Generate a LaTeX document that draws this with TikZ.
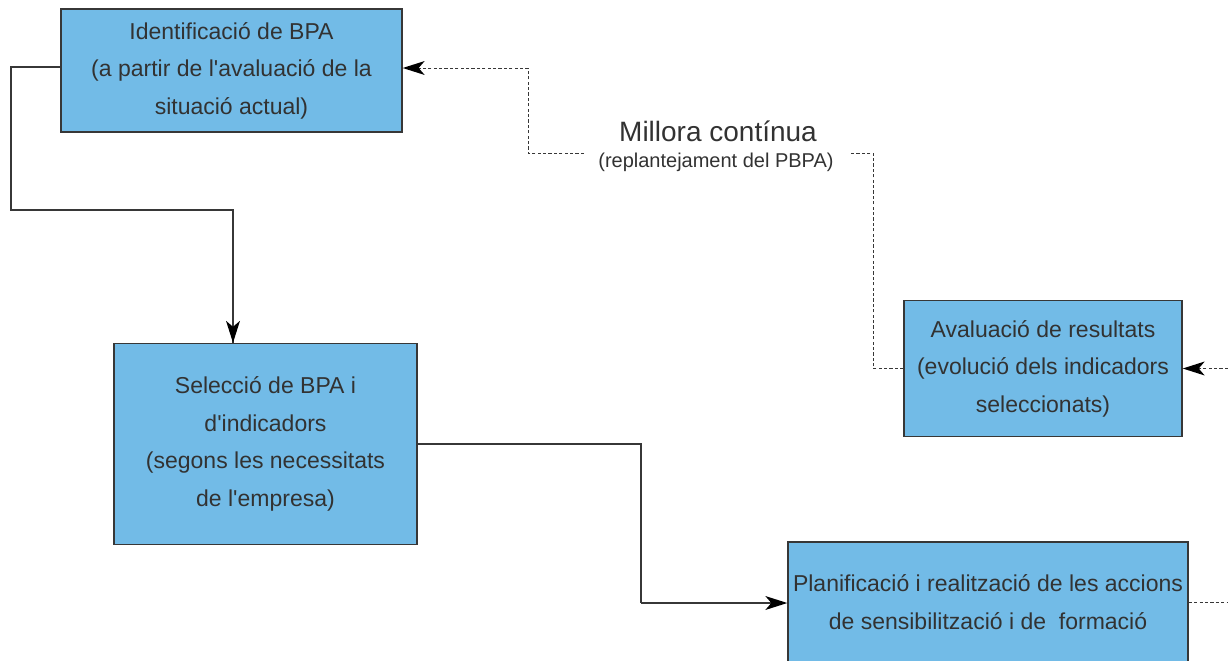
\documentclass[tikz,border=0pt]{standalone}
\usepackage{fontspec}
\setmainfont{Liberation Sans}
\usetikzlibrary{arrows.meta}
\definecolor{boxfill}{RGB}{114,187,231}
\definecolor{ink}{RGB}{50,50,50}
\definecolor{linec}{RGB}{55,55,55}
\tikzset{
  box/.style={draw=linec, line width=0.7pt, fill=boxfill, inner sep=0pt, align=center,
    text=ink, font=\fontsize{11.5pt}{18.75pt}\selectfont},
  conn/.style={draw=linec, line width=0.7pt},
  dconn/.style={draw=linec, line width=0.5pt, dash pattern=on 1.6pt off 1.1pt},
  tip/.style={-{Stealth[length=11pt,width=7pt,inset=3pt,color=black,line width=0pt]}},
}
\begin{document}
\begin{tikzpicture}[x=0.5pt,y=-0.5pt]
\useasboundingbox (0,0) rectangle (1228,660);
\clip (0,0) rectangle (1228,660);
\node[box, minimum width=170.5pt, minimum height=61.5pt] (b1) at (231.5,70.5)
  {Identificació de BPA\\(a partir de l\textquotesingle avaluació de la\\situació actual)};
\node[box, minimum width=151.5pt, minimum height=100.5pt] (b2) at (265.5,444)
  {Selecció de BPA i\\d\textquotesingle indicadors\\(segons les necessitats\\de l\textquotesingle empresa)};
\node[box, minimum width=139pt, minimum height=68pt] (b3) at (1043,368.5)
  {Avaluació de resultats\\(evolució dels indicadors\\seleccionats)};
\node[box, minimum width=200pt, minimum height=60pt] (b4) at (988,602)
  {Planificació i realització de les accions\\de sensibilització i de\ \ formació};
\node[text=ink, font=\fontsize{14pt}{16pt}\selectfont, inner sep=0pt] (mil) at (718,131) {Millora contínua};
\node[text=ink, font=\fontsize{10pt}{12pt}\selectfont, inner sep=0pt] (rep) at (716,162) {(replantejament del PBPA)};
\coordinate (k1) at (11,210);
\coordinate (k2) at (641,603);
\coordinate (k3) at (873,153);
\coordinate (k4) at (851,153);
\coordinate (k5) at (584,153);
\coordinate (k6) at (528,68);
\coordinate (redge) at (1228,0);
\draw[conn] ([yshift=1.75pt]b1.west) -| (k1) -| ([xshift=-16.25pt]b2.north);
\draw[conn,tip] ([xshift=-16.25pt,yshift=12pt]b2.north) -- ([xshift=-16.25pt]b2.north);
\draw[conn] (b2.east) -| (k2);
\draw[conn,tip] (k2) -- (k2 -| b4.west);
\draw[dconn] (b4.east) -- (b4.east -| redge);
\draw[dconn,tip] (b3.east -| redge) -- (b3.east);
\draw[dconn] (b3.west) -| (k3) -- (k4);
\draw[dconn,tip] (k5) -| (k6) -- (k6 -| b1.east);
\end{tikzpicture}
\end{document}
